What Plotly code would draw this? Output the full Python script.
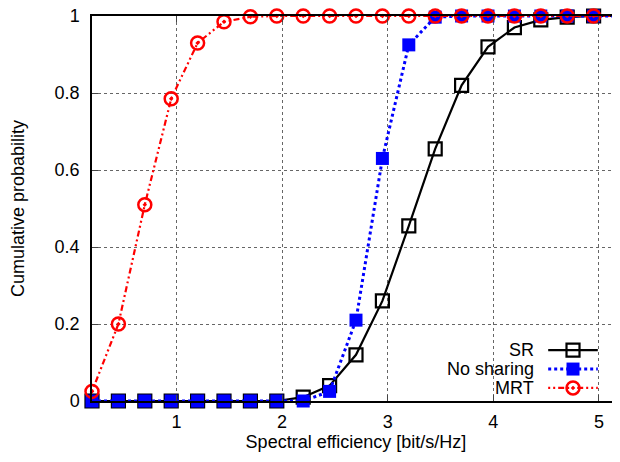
import plotly.graph_objects as go

x_vals = [0.2, 0.45, 0.7, 0.95, 1.2, 1.45, 1.7, 1.95, 2.2, 2.45, 2.7, 2.95,
          3.2, 3.45, 3.7, 3.95, 4.2, 4.45, 4.7, 4.95, 5.2]
sr = [0, 0, 0, 0, 0, 0, 0, 0, 0.01, 0.04, 0.12, 0.26,
      0.455, 0.655, 0.82, 0.92, 0.97, 0.99, 0.997, 1.0, 1.0]
no_sharing = [0, 0, 0, 0, 0, 0, 0, 0, 0.0, 0.025, 0.21, 0.63,
              0.925, 0.997, 1.0, 1.0, 1.0, 1.0, 1.0, 1.0, 1.0]
mrt = [0.025, 0.20, 0.51, 0.785, 0.93, 0.985, 0.998, 1.0, 1.0, 1.0, 1.0, 1.0,
       1.0, 1.0, 1.0, 1.0, 1.0, 1.0, 1.0, 1.0, 1.0]
names = ["SR", "No sharing", "MRT"]
x_ticks = [1, 2, 3, 4, 5]
y_ticks = [0, 0.2, 0.4, 0.6, 0.8, 1]
y_tick_text = ["0", "0.2", "0.4", "0.6", "0.8", "1"]

FONT = "Liberation Sans, Arial, sans-serif"
FS = 18

styles = [
    dict(line=dict(color="black", width=2.2),
         marker=dict(symbol="square-open", size=13, color="black", line=dict(width=2.2))),
    dict(line=dict(color="blue", width=3, dash="3px,3px"),
         marker=dict(symbol="square", size=13, color="blue", line=dict(width=0))),
    dict(line=dict(color="red", width=2.2, dash="2px,3px,2px,3px,6px,3px"),
         marker=dict(symbol="circle-open-dot", size=13, color="red", line=dict(width=2.5))),
]

fig = go.Figure()
for name, ys, st in zip(names, [sr, no_sharing, mrt], styles):
    fig.add_trace(go.Scatter(x=x_vals, y=ys, mode="lines+markers", name=name,
                             line=st["line"], marker=st["marker"],
                             cliponaxis=False, showlegend=False))

# Custom legend (text on left, sample on right) on an overlay axis
leg_y = [0.132, 0.083, 0.034]
for name, yy, st in zip(names, leg_y, styles):
    fig.add_trace(go.Scatter(x=[0.864, 0.958], y=[yy, yy], mode="lines",
                             line=st["line"], xaxis="x2", yaxis="y2",
                             showlegend=False, hoverinfo="skip"))
    fig.add_trace(go.Scatter(x=[0.911], y=[yy], mode="markers",
                             marker=st["marker"], xaxis="x2", yaxis="y2",
                             showlegend=False, hoverinfo="skip", cliponaxis=False))
    fig.add_annotation(x=0.84, y=yy, xref="paper", yref="paper", text=name,
                       showarrow=False, xanchor="right", yanchor="middle",
                       font=dict(size=FS, color="black", family=FONT))

# The page body has an 8px default margin, so the figure is sized to fit.
fig.update_layout(
    width=612, height=454,
    margin=dict(l=84, r=0, t=8, b=61),
    plot_bgcolor="white", paper_bgcolor="white",
    font=dict(family=FONT, size=FS, color="black"),
    xaxis=dict(range=[0.2, 5.2], tickvals=x_ticks, ticks="inside", ticklen=6,
               showline=True, linecolor="black", linewidth=1.5, mirror="ticks",
               showgrid=True, gridcolor="#666666", griddash="dot", gridwidth=1,
               zeroline=False, tickfont=dict(size=FS), automargin=False,
               ticklabelstandoff=4, ticklabeloverflow="allow",
               title=dict(text="Spectral efficiency [bit/s/Hz]", font=dict(size=FS), standoff=2)),
    yaxis=dict(range=[0, 1], tickvals=y_ticks, ticktext=y_tick_text, ticks="inside", ticklen=6,
               showline=True, linecolor="black", linewidth=1.5, mirror="ticks",
               showgrid=True, gridcolor="#666666", griddash="dot", gridwidth=1,
               zeroline=False, tickfont=dict(size=FS), automargin=False,
               ticklabelstandoff=7, ticklabeloverflow="allow",
               title=dict(text="Cumulative probability", font=dict(size=FS), standoff=27)),
    xaxis2=dict(range=[0, 1], overlaying="x", visible=False, anchor="y2"),
    yaxis2=dict(range=[0, 1], overlaying="y", visible=False, anchor="x2"),
)

fig.write_html("out.html")
